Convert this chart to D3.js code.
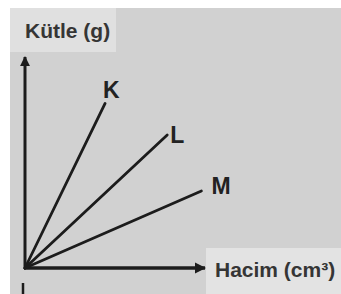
<!DOCTYPE html>
<html><head><meta charset="utf-8">
<script src="https://cdn.jsdelivr.net/npm/d3@7"></script>
<style>html,body{margin:0;padding:0;background:#fff;}svg{display:block;}</style>
</head><body>
<script>
const substances = ["K", "L", "M"];
const volumeEnd = [4.45, 7.9, 9.8];   // Hacim (cm³) at line end
const massEnd = [7.8, 6.3, 3.65];     // Kütle (g) at line end
const axisTitles = ["Kütle (g)", "Hacim (cm³)"];

// label offsets (layout only)
const labelDx = [-2, 3, 10];
const labelDy = [-5, 8, 3];

const W = 341, H = 294;
const svg = d3.select("body").append("svg").attr("width", W).attr("height", H);

svg.append("rect").attr("x", 10).attr("y", 8).attr("width", W - 10).attr("height", H - 8).attr("fill", "#d1d1d1");
svg.append("rect").attr("x", 10).attr("y", 8).attr("width", 106).attr("height", 44).attr("fill", "#e0e0e0");
svg.append("rect").attr("x", 206).attr("y", 248).attr("width", W - 206).attr("height", H - 248).attr("fill", "#e3e3e3");

const x = d3.scaleLinear().domain([0, 10]).range([25, 205]);
const y = d3.scaleLinear().domain([0, 10]).range([268, 57]);

const ink = "#1c1c1c";
svg.append("defs").append("marker").attr("id", "arr").attr("viewBox", "0 0 10 10")
  .attr("refX", 9).attr("refY", 5).attr("markerWidth", 3.3).attr("markerHeight", 3.3)
  .attr("markerUnits", "strokeWidth").attr("orient", "auto")
  .append("path").attr("d", "M0,0L10,5L0,10Z").attr("fill", ink);

// axes
svg.append("line").attr("x1", x(0)).attr("y1", y(0) + 1).attr("x2", x(0)).attr("y2", y(10))
  .attr("stroke", ink).attr("stroke-width", 3).attr("marker-end", "url(#arr)");
svg.append("line").attr("x1", x(0) - 1).attr("y1", y(0)).attr("x2", x(10)).attr("y2", y(0))
  .attr("stroke", ink).attr("stroke-width", 3.5).attr("marker-end", "url(#arr)");
svg.append("line").attr("x1", x(0) - 2).attr("y1", y(0) + 15).attr("x2", x(0) - 2).attr("y2", H)
  .attr("stroke", ink).attr("stroke-width", 2.5);

const data = substances.map((s, i) => ({ s, v: volumeEnd[i], m: massEnd[i], dx: labelDx[i], dy: labelDy[i] }));
svg.selectAll("line.series").data(data).enter().append("line").attr("class", "series")
  .attr("x1", x(0)).attr("y1", y(0))
  .attr("x2", d => x(d.v)).attr("y2", d => y(d.m))
  .attr("stroke", ink).attr("stroke-width", 2.8).attr("stroke-linecap", "round");

svg.selectAll("text.lab").data(data).enter().append("text").attr("class", "lab")
  .attr("x", d => x(d.v) + d.dx).attr("y", d => y(d.m) + d.dy)
  .attr("font-family", "Liberation Sans, Arial, sans-serif").attr("font-weight", "bold")
  .attr("font-size", 23).attr("fill", "#222").text(d => d.s);

svg.append("text").attr("x", 25).attr("y", 38)
  .attr("font-family", "Liberation Sans, Arial, sans-serif").attr("font-size", 21).attr("font-weight", "bold")
  .attr("fill", "#353535").text(axisTitles[0]);
svg.append("text").attr("x", 215).attr("y", 277)
  .attr("font-family", "Liberation Sans, Arial, sans-serif").attr("font-size", 21).attr("font-weight", "bold")
  .attr("fill", "#353535").text(axisTitles[1]);
</script>
</body></html>
